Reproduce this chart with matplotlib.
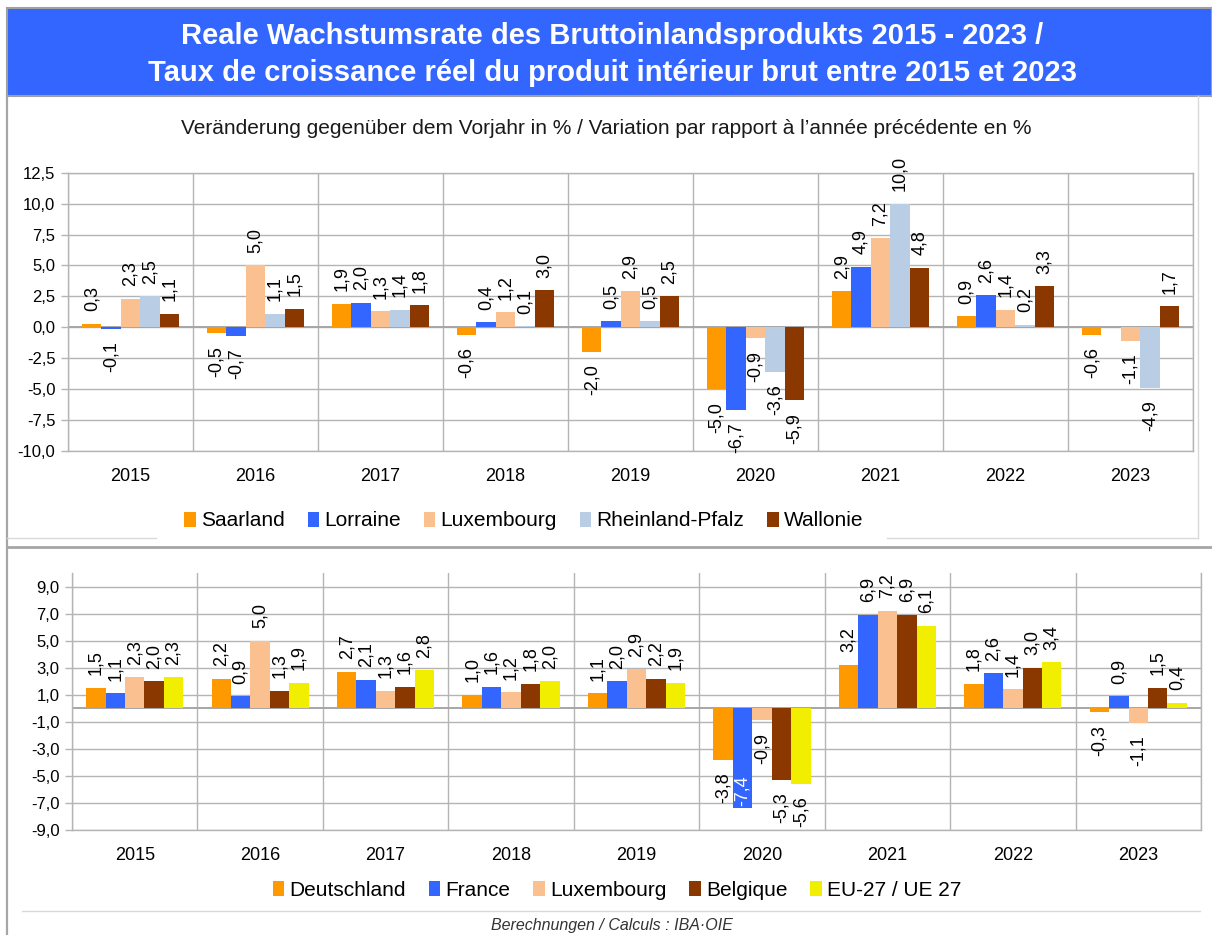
import numpy as np
import matplotlib
matplotlib.use("Agg")
import matplotlib.pyplot as plt
from matplotlib.patches import Rectangle, Patch
from matplotlib.lines import Line2D
from matplotlib.ticker import FixedLocator, FuncFormatter

plt.rcParams['font.family'] = ['Liberation Sans', 'DejaVu Sans']

years = ["2015", "2016", "2017", "2018", "2019", "2020", "2021", "2022", "2023"]

# Top chart: regions
top_names = ["Saarland", "Lorraine", "Luxembourg", "Rheinland-Pfalz", "Wallonie"]
saarland = [0.3, -0.5, 1.9, -0.6, -2.0, -5.0, 2.9, 0.9, -0.6]
lorraine = [-0.1, -0.7, 2.0, 0.4, 0.5, -6.7, 4.9, 2.6, np.nan]
luxembourg_top = [2.3, 5.0, 1.3, 1.2, 2.9, -0.9, 7.2, 1.4, -1.1]
rheinland_pfalz = [2.5, 1.1, 1.4, 0.1, 0.5, -3.6, 10.0, 0.2, -4.9]
wallonie = [1.1, 1.5, 1.8, 3.0, 2.5, -5.9, 4.8, 3.3, 1.7]

# Bottom chart: countries
bot_names = ["Deutschland", "France", "Luxembourg", "Belgique", "EU-27 / UE 27"]
deutschland = [1.5, 2.2, 2.7, 1.0, 1.1, -3.8, 3.2, 1.8, -0.3]
france = [1.1, 0.9, 2.1, 1.6, 2.0, -7.4, 6.9, 2.6, 0.9]
luxembourg_bot = [2.3, 5.0, 1.3, 1.2, 2.9, -0.9, 7.2, 1.4, -1.1]
belgique = [2.0, 1.3, 1.6, 1.8, 2.2, -5.3, 6.9, 3.0, 1.5]
eu27 = [2.3, 1.9, 2.8, 2.0, 1.9, -5.6, 6.1, 3.4, 0.4]

top_series = [saarland, lorraine, luxembourg_top, rheinland_pfalz, wallonie]
bot_series = [deutschland, france, luxembourg_bot, belgique, eu27]

top_colors = ["#FF9900", "#3366FF", "#FAC090", "#B9CDE5", "#8B3800"]
bot_colors = ["#FF9900", "#3366FF", "#FAC090", "#8B3800", "#F2EE00"]

title1 = "Reale Wachstumsrate des Bruttoinlandsprodukts 2015 - 2023 /"
title2 = "Taux de croissance réel du produit intérieur brut entre 2015 et 2023"
subtitle = "Veränderung gegenüber dem Vorjahr in % / Variation par rapport à l’année précédente en %"
source = "Berechnungen / Calculs : IBA·OIE"

W, H = 1212, 935
fig = plt.figure(figsize=(W / 100, H / 100), dpi=100)
fig.patch.set_facecolor("white")

def fx(px):
    return px / W

def fy(py):
    return 1 - py / H

GRID = "#B4B4B4"

def comma(v, pos=None):
    return f"{v:.1f}".replace(".", ",")

def draw_chart(ax, series, colors, ymin, ymax, ticks):
    n = len(series)
    x = np.arange(len(years))
    w = 0.155
    ax.set_xlim(-0.5, len(years) - 0.5)
    ax.set_ylim(ymin, ymax)
    ax.yaxis.set_major_locator(FixedLocator(ticks))
    ax.yaxis.set_major_formatter(FuncFormatter(comma))
    ax.xaxis.set_major_locator(FixedLocator(x))
    ax.set_xticklabels(years)
    ax.xaxis.set_minor_locator(FixedLocator(np.arange(-0.5, len(years), 1.0)))
    ax.grid(True, which="major", axis="y", color=GRID, lw=1.0, zorder=0)
    ax.grid(True, which="minor", axis="x", color=GRID, lw=1.0, zorder=0)
    ax.tick_params(axis="x", which="both", length=0, labelsize=13, pad=12)
    ax.tick_params(axis="y", which="major", length=5, color=GRID, width=1.0,
                   labelsize=12, pad=4)
    for s in ax.spines.values():
        s.set_color(GRID)
        s.set_linewidth(1.0)
    ax.axhline(0, color="#A6A6A6", lw=1.4, zorder=1)
    ax.set_axisbelow(True)
    bb = ax.get_window_extent()
    ppu = bb.height / (ymax - ymin)
    for i, (vals, col) in enumerate(zip(series, colors)):
        xs = x + (i - (n - 1) / 2) * w
        ax.bar(xs, vals, width=w, color=col, zorder=2, linewidth=0)
        for xi, v in zip(xs, vals):
            if np.isnan(v):
                continue
            txt = comma(v)
            if v >= 0:
                ax.annotate(txt, (xi, v), xytext=(0, 9), textcoords="offset points",
                            rotation=90, ha="center", va="bottom", fontsize=13,
                            zorder=4)
            else:
                label_px = 13 + 9 * len(txt)
                if (v - ymin) * ppu < label_px - 10:
                    ax.annotate(txt, (xi, v), xytext=(0, 2), textcoords="offset points",
                                rotation=90, ha="center", va="bottom", fontsize=13,
                                color="white", zorder=4)
                else:
                    ax.annotate(txt, (xi, v), xytext=(0, -9), textcoords="offset points",
                                rotation=90, ha="center", va="top", fontsize=13,
                                zorder=4)

# ---- Decorations ----
fig.patches.append(Rectangle((fx(7), fy(96)), fx(1212) - fx(7), fy(8) - fy(96),
                             transform=fig.transFigure, facecolor="#3366FF",
                             edgecolor="#A0A0A0", lw=1.5, zorder=0))
fig.text(fx(612), fy(36), title1, color="white", fontsize=21, fontweight="bold",
         ha="center", va="center")
fig.text(fx(612), fy(73), title2, color="white", fontsize=21, fontweight="bold",
         ha="center", va="center")
fig.lines.append(Line2D([fx(7), fx(7)], [fy(96), fy(935)], transform=fig.transFigure,
                        color="#A6A6A6", lw=1.6))
fig.lines.append(Line2D([fx(1198), fx(1198)], [fy(96), fy(538)], transform=fig.transFigure,
                        color="#D9D9D9", lw=1.0))
fig.lines.append(Line2D([fx(7), fx(156)], [fy(538), fy(538)], transform=fig.transFigure,
                        color="#D9D9D9", lw=1.0))
fig.lines.append(Line2D([fx(887), fx(1198)], [fy(538), fy(538)], transform=fig.transFigure,
                        color="#D9D9D9", lw=1.0))
fig.lines.append(Line2D([fx(7), fx(1212)], [fy(546.5), fy(546.5)], transform=fig.transFigure,
                        color="#A6A6A6", lw=2.0))
fig.lines.append(Line2D([fx(22), fx(1200)], [fy(911), fy(911)], transform=fig.transFigure,
                        color="#D9D9D9", lw=1.0))

fig.text(fx(606), fy(128), subtitle, fontsize=15, ha="center", va="center", color="#1a1a1a")
fig.text(fx(612), fy(933), source, fontsize=11.5, style="italic", ha="center", va="bottom",
         color="#333333")

# ---- Top chart ----
ax1 = fig.add_axes([fx(68), fy(451), fx(1193) - fx(68), fy(172.7) - fy(451)])
draw_chart(ax1, top_series, top_colors, -10, 12.5, np.arange(-10, 12.6, 2.5))

# ---- Bottom chart ----
ax2 = fig.add_axes([fx(72), fy(830), fx(1201) - fx(72), fy(573) - fy(830)])
draw_chart(ax2, bot_series, bot_colors, -9, 10, np.arange(-9, 9.1, 2))
ax2.spines["top"].set_visible(False)

# ---- Legends ----
def legend(names, colors, cx, cy):
    handles = [Patch(facecolor=c, edgecolor="none") for c in colors]
    fig.legend(handles, names, loc="center", bbox_to_anchor=(cx, cy), ncol=len(names),
               frameon=False, fontsize=15, handlelength=0.55, handleheight=0.75,
               handletextpad=0.25, columnspacing=1.1, borderaxespad=0)

legend(top_names, top_colors, fx(524), fy(521))
legend(bot_names, bot_colors, fx(617), fy(890))

fig.savefig("out.png", dpi=100, facecolor="white")
